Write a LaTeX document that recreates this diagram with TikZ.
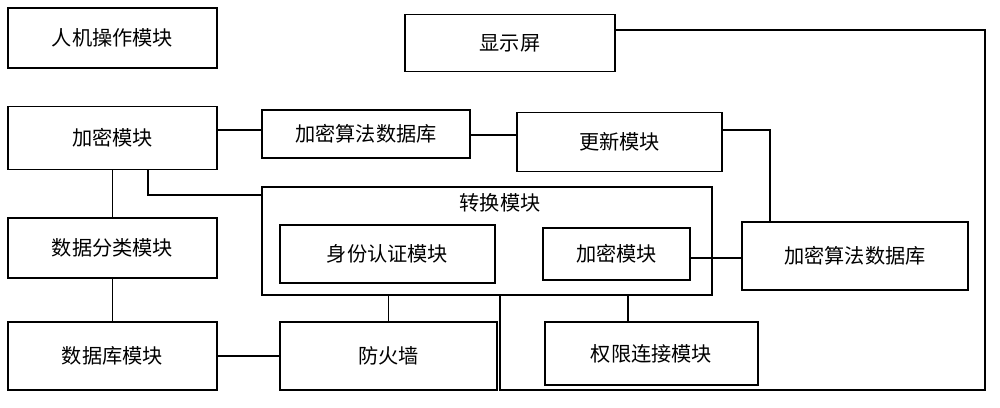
\documentclass[tikz,border=0pt]{standalone}
\usepackage{fontspec}
\newfontfamily\cjk{Noto Sans CJK SC}
\usetikzlibrary{positioning}

\tikzset{
  blk/.style={draw, thick, inner sep=0pt, font=\cjk\fontsize{11.5}{13}\selectfont},
  wire/.style={draw, thick}
}

\begin{document}
\begin{tikzpicture}[x=0.02cm,y=-0.02cm]
  \useasboundingbox (0,0) rectangle (1000,408);
  % left column
  \node[blk, minimum width=4.18cm, minimum height=1.2cm]  (hmi)   at (112.5,38)  {人机操作模块};
  \node[blk, minimum width=4.18cm, minimum height=1.26cm] (enc)   at (112.5,138) {加密模块};
  \node[blk, minimum width=4.18cm, minimum height=1.2cm]  (cls)   at (112.5,248) {数据分类模块};
  \node[blk, minimum width=4.18cm, minimum height=1.36cm] (db)    at (112.5,356) {数据库模块};
  % middle
  \node[blk, minimum width=4.2cm, minimum height=1.14cm]  (disp)  at (510,43)    {显示屏};
  \node[blk, minimum width=4.16cm, minimum height=0.96cm] (algA)  at (366,134)   {加密算法数据库};
  \node[blk, minimum width=4.1cm, minimum height=1.18cm]  (upd)   at (619.5,142) {更新模块};
  \node[blk, minimum width=9cm, minimum height=2.16cm]    (conv)  at (487,241)   {};
  \node[font=\cjk\fontsize{11.5}{13}\selectfont] (convt) at (500,203) {转换模块};
  \node[blk, minimum width=4.3cm, minimum height=1.16cm]  (auth)  at (387.5,254) {身份认证模块};
  \node[blk, minimum width=2.94cm, minimum height=1.04cm] (enc2)  at (616.5,254) {加密模块};
  \node[blk, minimum width=4.52cm, minimum height=1.36cm] (algB)  at (855,256)   {加密算法数据库};
  \node[blk, minimum width=4.34cm, minimum height=1.36cm] (fw)    at (388.5,356) {防火墙};
  \node[blk, minimum width=4.26cm, minimum height=1.26cm] (perm)  at (651.5,353.5) {权限连接模块};

  % connectors
  \draw[wire] (enc.east |- 0,130) -- (algA.west |- 0,130);
  \draw[wire] (algA.east |- 0,135) -- (upd.west |- 0,135);
  \draw[wire] (upd.east |- 0,130) -| (algB.north -| 770,0);
  \draw[wire] (enc2.east |- 0,258) -- (algB.west |- 0,258);
  \draw[wire] (enc.south -| 148,0) |- (conv.west |- 0,195);
  \draw[wire] (enc.south) -- (cls.north);
  \draw[wire] (cls.south) -- (db.north);
  \draw[wire] (db.east) -- (fw.west);
  \draw[wire] (conv.south -| fw.north) -- (fw.north);
  \draw[wire] (conv.south -| 628,0) -- (perm.north -| 628,0);
  \draw[wire] (disp.east |- 0,30) -- (985,30) -- (985,390) -| (conv.south -| 500,0);
\end{tikzpicture}
\end{document}
